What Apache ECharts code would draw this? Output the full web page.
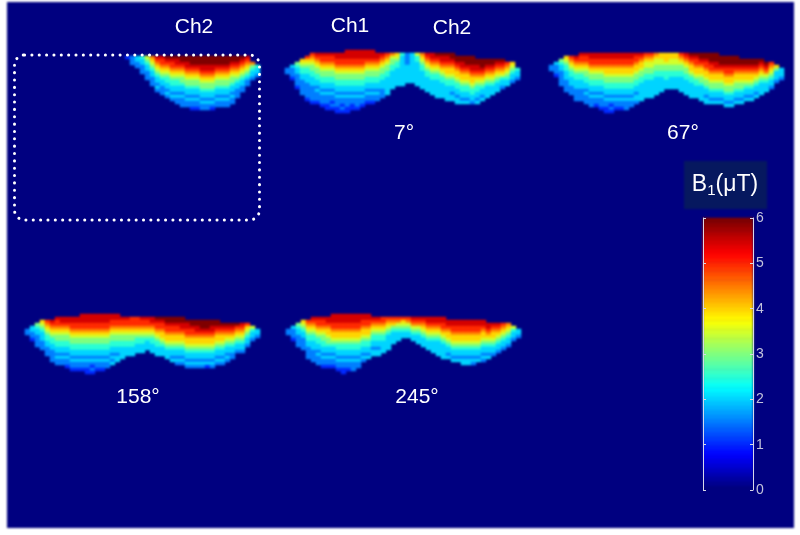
<!DOCTYPE html>
<html><head><meta charset="utf-8">
<script src="https://cdn.jsdelivr.net/npm/echarts@6/dist/echarts.min.js"></script>
<style>html,body{margin:0;padding:0;background:#fff}
#wrap{position:relative;width:800px;height:535px;overflow:hidden}
#base,#over{position:absolute;left:0;top:0;width:800px;height:535px}
#base{filter:blur(0.8px)}#over{filter:blur(0.35px)}</style>
</head><body><div id="wrap"><div id="base"></div><div id="over"></div></div>
<script>
// Each string is one column of a map, read top to bottom. '.' = no tissue,
// otherwise base-13 digit = B1 value in half microtesla steps (C = 6.0 uT).
const ch2Only = [
".2",".333",".4433",".544333",".76544333",".9876544333",".BA9876544343",".BAA9876544333",
".CBA98765544343",".CBAA98765544343",".CBBA987655443433",".CCBA9876654434333",".CCBBA987665443433",
".CCCBA9876654434332",".CCCBA9876654434332",".CCCBBA987665443433",".CCCBBA987665443433",".CCCBBA987665443432",
".CCCBA987665443433",".CCCBA987665443433",".CCCBA987665443433",".CCBA987665443433",".CCBA9876544333",
".CBA987654433",".BA98765433","...965443","....5443"];
const phase7 = [
"......33",".....43332","....654433332","...876554433333","..A87655444333332",".A9876655444333332",
".BA987665544343332",".BAA987665544343332",".BAA9876655443433322",".BAA9876655443433232",
".BBAA9876655443433322",".BBAA9876655443433232","BBBAA9876655443433322","BBBAA987665544343322","BBBAA987665544343332",
"BBBAA98766554434332","BBBA98766554434332","BBBA98766554434332",".BBA9876655443433",".BA9876655444333",
".A9876655444444",".976655444444",".87655444444",".54444444444",".3333444444",".4444444444",".75544444444",
".987655444444",".BA98765544444",".BBA98765544444",".CBA987655444444",".CBBA98765544444",".CBBA988765544444",
".CCBA988765544344","..CCBA988765544344","..CCBBA98876554434","..CCCBA98876554434","..CCCBBA9887655443",
"...CCBBA9876554434","...CCCBA987654434","...CCBA987654444","...CCBA98765444","...CBA98765444","...CBA9875443",
"....A9876544","....8765443","......5443"];
const phase67 = [
".....33","....43332","...654433333","..876554443333","..A987655444333","..BA9876554443333",".BAA9876554443333",
".BAA98766554434333",".BBAA98766554434333",".BBAA98766554434332",".BBAA987665544343332",".BBAA9887665544343322",
".BBAA9887665544343232",".BBAA988766554434332",".BBAA988766554434332",".BBAA988766554434333",".BBAA98876655443433",
".BAA98876655443443",".BA98876655444444",".A98776655444444",".A98776655444444",".98776655444444",".8877665544444",
".888766555444",".887766554444",".887766554444",".A987665544444",".BA987665544444",".CBA988765544444",".CBAA98876554444",
".CCBA988766544444",".CCBAA988766544344",".CCCBAA98876654434",".CCCBBA98876654434","..CCCBA98876654434",
"..CCCBAA98876654434","..CCCBAA98876654434","..CCCBA98876654434","...CCBA98876654434","...CCBA9887654434",
"...CCBA9887654434","...CCBA987654434","...CBA987654444","....CBA9765444","....A98765443",".....864443","......4443"];
const phase158 = [
"......33",".....44332","....65443333","...8765444333","...A98765544333","...BA987655443333","..BAA9876655443433",
"..BBA9876655443433","..BBA98766554434332","..BBAA98766554434332","..BBAA98766554434332",".BBBAA98766554434332",
".BBBAA987665544343322",".BBBAA987665544343232",".BBBAA98766554434332",".BBBAA98766554434332",".BBBAA9876655443433",
".BBAA9876655443434",".BBAA987665544344","..BAA98766554444","..BAA9876655444","..AAA9876655444","..AAA987655444",
"..BAA987655444","..BAA98765444","..BBA987655444","..CBAA987655444","..CBAA988765444","..CCBAA988765444",
"..CCBAA9887654434","..CCBAA98876544343","..CCBBA98876544343","...CBBAA98876544343","...CCBAA98876544343",
"...CCBBA98876544343","...CCCBA98876544343","...CCCBA98876544342","...CCBBA98876544343","...CCBA98876544343",
"....CBA98876544343","....CBA9876544343","....CBA987654433","....CA98765443","....BA98765443","....A8765443",
".....75443","......443"];
const phase245 = [
"......33",".....43332","....65443333","...8765443333","...A987655443333","..BA9876554443333","..BAA9876554434333",
"..BAA98766554434332","..BBA98876654434332",".BBBAA9887654434332",".BBBAA98876554434332",".BBBAA988765544343322",
".BBBAA98876554434332",".BBBAA98876554434333",".BBBAA9887655443433",".BBAA988765544343",".BBAA98876554434",
"..BA98765544344","..BA98765544344","..AA9876554444","..A9876544444","..A98654444","..A9765444","..A876544","..A976544",
"..BA976544","..BA9765444","..BA98765444","..BBA98765444","..BBA987654444","..BBA9876544444","..BBAA9876544444",
"...BBA9887654434","...BBAA9887654434","...BBAA9887654434","...BBAA98876544344","...BBAA98876544344","...BBAA98876544343",
"...BBAA9887654434","...BBA98876544343","....BBA987654434","....BA988765443","....BA98765443","....A98765443",
"....98765443",".....75443","......443"];

const panelMaps = [ch2Only, phase7, phase67, phase158, phase245];
const panelLeft = [125, 285, 549, 25, 286];
const panelTop = [53, 50, 50, 311, 311];
const colorbarValues = [0,0.1,0.2,0.3,0.4,0.5,0.6,0.7,0.8,0.9,1,1.1,1.2,1.3,1.4,1.5,1.6,1.7,1.8,1.9,
 2,2.1,2.2,2.3,2.4,2.5,2.6,2.7,2.8,2.9,3,3.1,3.2,3.3,3.4,3.5,3.6,3.7,3.8,3.9,
 4,4.1,4.2,4.3,4.4,4.5,4.6,4.7,4.8,4.9,5,5.1,5.2,5.3,5.4,5.5,5.6,5.7,5.8,5.9,6];
const labelTexts = ["Ch2","Ch1","Ch2","7°","67°","158°","245°"];
const labelX = [194,350,452,404,683,138,417];
const labelY = [27,26,28,133,133,397,397];
const jet = ['#00007f','#0000ff','#007fff','#00ffff','#7fff7f','#ffff00','#ff7f00','#ff0000','#7f0000'];
const NAVY = '#000080';
const CELL_W = 5, CELL_H = 3, ROWS = 21;

const grid=[], xAxis=[], yAxis=[], series=[];
panelMaps.forEach((cols,p)=>{
  grid.push({left:panelLeft[p],top:panelTop[p],width:cols.length*CELL_W,height:ROWS*CELL_H});
  xAxis.push({type:'category',gridIndex:p,show:false,data:cols.map((_,i)=>i)});
  yAxis.push({type:'category',gridIndex:p,show:false,inverse:true,data:Array.from({length:ROWS},(_,i)=>i)});
  const data=[];
  cols.forEach((col,c)=>{ for(let r=0;r<col.length;r++){ if(col[r]!=='.') data.push([c,r,parseInt(col[r],13)/2]); } });
  series.push({type:'heatmap',xAxisIndex:p,yAxisIndex:p,data,silent:true,progressive:0,emphasis:{disabled:true}});
});
const cb=panelMaps.length;
grid.push({left:703,top:218,width:50,height:272});
xAxis.push({type:'category',gridIndex:cb,show:false,data:[0]});
yAxis.push({type:'category',gridIndex:cb,show:false,data:colorbarValues.map(String)});
series.push({type:'heatmap',xAxisIndex:cb,yAxisIndex:cb,silent:true,progressive:0,emphasis:{disabled:true},
  data:colorbarValues.map((v,i)=>[0,i,v])});

const base=echarts.init(document.getElementById('base'));
base.setOption({animation:false,backgroundColor:'#fff',grid,xAxis,yAxis,series,tooltip:{show:false},
  graphic:[
   {type:'rect',z:-10,shape:{x:7,y:2,width:787,height:526},style:{fill:NAVY}},
   {type:'rect',z:-9,shape:{x:684,y:161,width:83,height:48},style:{fill:'#06185f'}}],
  visualMap:{show:false,min:0,max:6,seriesIndex:series.map((_,i)=>i),dimension:2,inRange:{color:jet}}});

const edge={show:true,lineStyle:{color:'#d8d8e8',width:1}};
const tick={show:true,inside:true,length:3,lineStyle:{color:'#d8d8e8'}};
const graphic=[
 {type:'rect',z:20,shape:{x:14.5,y:55,width:245,height:165,r:10},
  style:{fill:'transparent',stroke:'#ffffff',lineWidth:3,lineDash:[0.1,7.25],lineCap:'round'}},
 {type:'text',z:20,x:725,y:185,style:{text:'{b|B}{s|1}{b|(μT)}',align:'center',verticalAlign:'middle',
  rich:{b:{fontFamily:'Liberation Sans',fontSize:23,fill:'#fff',lineHeight:26},
        s:{fontFamily:'Liberation Sans',fontSize:15,fill:'#fff',padding:[11,0,0,0],lineHeight:26}}}}
];
labelTexts.forEach((t,i)=>graphic.push({type:'text',z:20,x:labelX[i],y:labelY[i],
  style:{text:t,align:'center',verticalAlign:'middle',fill:'#fff',fontFamily:'Liberation Sans',fontSize:21}}));
const over=echarts.init(document.getElementById('over'));
over.setOption({animation:false,backgroundColor:'transparent',graphic,tooltip:{show:false},
  grid:{left:703,top:218,width:50,height:272},
  xAxis:{type:'value',show:false,min:0,max:1},
  yAxis:[
   {type:'value',position:'left',min:0,max:6,interval:1,axisLine:edge,axisTick:tick,axisLabel:{show:false},splitLine:{show:false}},
   {type:'value',position:'right',min:0,max:6,interval:1,axisLine:edge,axisTick:tick,
    axisLabel:{show:true,color:'#c4c4dc',fontFamily:'Liberation Sans',fontSize:14,margin:3},splitLine:{show:false}}]});
</script></body></html>
